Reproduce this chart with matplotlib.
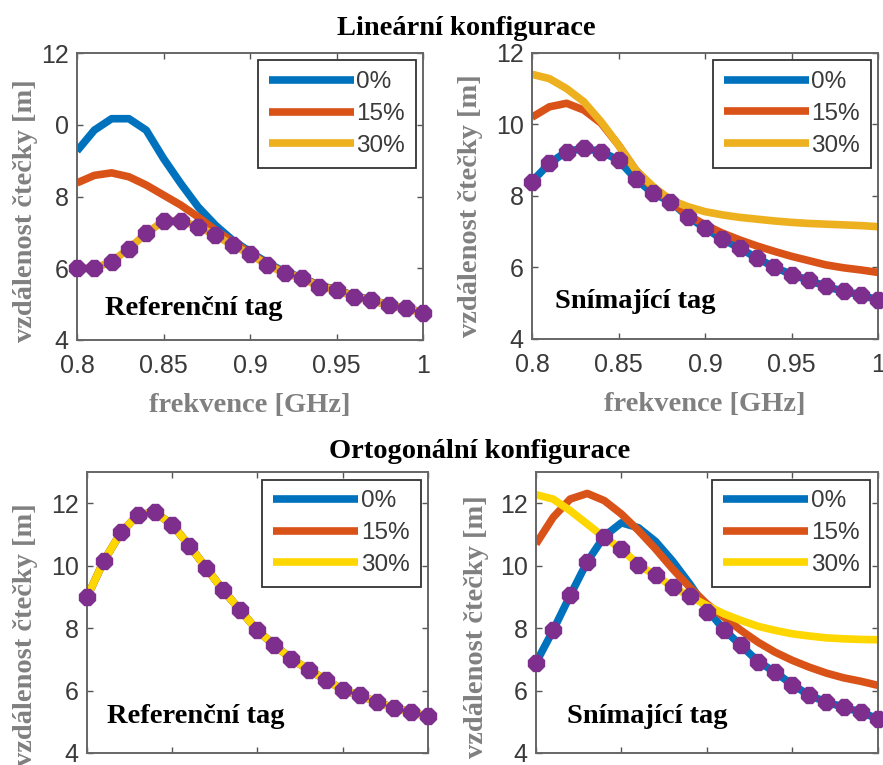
import matplotlib
matplotlib.use('Agg')
import matplotlib.pyplot as plt

# frequency grid [GHz]
freq = [0.80, 0.81, 0.82, 0.83, 0.84, 0.85, 0.86, 0.87, 0.88, 0.89, 0.90,
        0.91, 0.92, 0.93, 0.94, 0.95, 0.96, 0.97, 0.98, 0.99, 1.00]
labels = ['0%', '15%', '30%']

# Lineární konfigurace - referenční tag
lin_ref_0 = [9.27, 9.85, 10.17, 10.17, 9.85, 9.06, 8.36, 7.71, 7.20, 6.78, 6.46,
             6.15, 5.90, 5.74, 5.52, 5.41, 5.23, 5.12, 4.98, 4.89, 4.77]
lin_ref_15 = [8.38, 8.59, 8.66, 8.55, 8.32, 8.04, 7.76, 7.43, 7.06, 6.74, 6.42,
              6.12, 5.88, 5.73, 5.51, 5.40, 5.22, 5.11, 4.97, 4.88, 4.76]
lin_ref_30 = [6.00, 6.00, 6.18, 6.55, 6.97, 7.32, 7.32, 7.16, 6.92, 6.64, 6.39,
              6.09, 5.86, 5.72, 5.49, 5.39, 5.21, 5.11, 4.97, 4.88, 4.76]
lin_ref_min = [6.00, 6.00, 6.18, 6.55, 6.97, 7.32, 7.32, 7.16, 6.92, 6.64, 6.39,
               6.09, 5.86, 5.72, 5.49, 5.39, 5.21, 5.11, 4.97, 4.88, 4.76]

# Lineární konfigurace - snímající tag
lin_sen_0 = [8.40, 8.91, 9.24, 9.33, 9.24, 9.00, 8.47, 8.07, 7.84, 7.42, 7.10,
             6.79, 6.54, 6.26, 6.01, 5.80, 5.64, 5.47, 5.33, 5.24, 5.08]
lin_sen_15 = [10.20, 10.49, 10.59, 10.40, 10.03, 9.42, 8.72, 8.21, 7.84, 7.47, 7.19,
              6.96, 6.77, 6.60, 6.45, 6.31, 6.19, 6.07, 5.99, 5.93, 5.86]
lin_sen_30 = [11.40, 11.28, 11.00, 10.63, 10.07, 9.42, 8.72, 8.26, 7.89, 7.70, 7.56,
              7.47, 7.40, 7.35, 7.30, 7.26, 7.23, 7.21, 7.19, 7.17, 7.14]
lin_sen_min = [8.40, 8.91, 9.24, 9.33, 9.24, 9.00, 8.47, 8.07, 7.84, 7.42, 7.10,
               6.79, 6.54, 6.26, 6.01, 5.80, 5.64, 5.47, 5.33, 5.24, 5.08]

# Ortogonální konfigurace - referenční tag
ort_ref_0 = [8.99, 10.17, 11.07, 11.64, 11.71, 11.32, 10.65, 9.93, 9.21, 8.57, 7.93,
             7.45, 7.02, 6.67, 6.35, 6.03, 5.85, 5.63, 5.45, 5.31, 5.17]
ort_ref_15 = [8.99, 10.17, 11.07, 11.64, 11.71, 11.32, 10.65, 9.93, 9.21, 8.57, 7.93,
              7.45, 7.02, 6.67, 6.35, 6.03, 5.85, 5.63, 5.45, 5.31, 5.17]
ort_ref_30 = [8.99, 10.17, 11.07, 11.64, 11.71, 11.32, 10.65, 9.93, 9.21, 8.57, 7.93,
              7.45, 7.02, 6.67, 6.35, 6.03, 5.85, 5.63, 5.45, 5.31, 5.17]
ort_ref_min = [8.99, 10.17, 11.07, 11.64, 11.71, 11.32, 10.65, 9.93, 9.21, 8.57, 7.93,
               7.45, 7.02, 6.67, 6.35, 6.03, 5.85, 5.63, 5.45, 5.31, 5.17]

# Ortogonální konfigurace - snímající tag
ort_sen_0 = [6.89, 7.93, 9.05, 10.13, 10.95, 11.38, 11.22, 10.78, 10.15, 9.42, 8.62,
             7.95, 7.45, 6.93, 6.59, 6.19, 5.85, 5.63, 5.47, 5.31, 5.10]
ort_sen_15 = [10.70, 11.55, 12.14, 12.32, 12.09, 11.66, 11.13, 10.54, 9.90, 9.31, 8.78,
              8.35, 7.93, 7.55, 7.23, 6.97, 6.75, 6.56, 6.41, 6.30, 6.17]
ort_sen_30 = [12.28, 12.14, 11.77, 11.34, 10.91, 10.54, 10.03, 9.69, 9.33, 9.02, 8.73,
              8.46, 8.25, 8.06, 7.93, 7.82, 7.75, 7.69, 7.66, 7.64, 7.63]
ort_sen_min = [6.89, 7.93, 9.05, 10.13, 10.93, 10.54, 10.03, 9.69, 9.33, 9.02, 8.51,
               7.93, 7.45, 6.93, 6.59, 6.19, 5.85, 5.63, 5.47, 5.31, 5.10]

xticks = [0.8, 0.85, 0.9, 0.95, 1.0]
xticklabels = ['0.8', '0.85', '0.9', '0.95', '1']
yticks = [4, 6, 8, 10, 12]

BLUE = '#0072BD'
ORANGE = '#D95319'
YEL_TOP = '#EDB120'
YEL_BOT = '#FFD700'
PURPLE = '#7E2F8E'
GRAY_LBL = '#808080'

serif = ['Liberation Serif', 'DejaVu Serif']
plt.rcParams['font.family'] = ['Liberation Sans', 'DejaVu Sans']

fig = plt.figure(figsize=(8.83, 7.65), dpi=100)

panels = [
    # rect, series, yellow, ylim, ytick labels, text, text pos, show xlabel, ylabel coords
    ([0.0872, 0.5556, 0.392, 0.375], (lin_ref_0, lin_ref_15, lin_ref_30, lin_ref_min), YEL_TOP,
     (4, 12), ['4', '6', '8', '0', '12'], 'Referenční tag', (0.8162, 4.70), True, (-0.113, 0.45)),
    ([0.6025, 0.5569, 0.392, 0.374], (lin_sen_0, lin_sen_15, lin_sen_30, lin_sen_min), YEL_TOP,
     (4, 12), ['4', '6', '8', '10', '12'], 'Snímající tag', (0.813, 4.87), True, (-0.142, 0.465)),
    ([0.0985, 0.0157, 0.386, 0.367], (ort_ref_0, ort_ref_15, ort_ref_30, ort_ref_min), YEL_BOT,
     (4, 13), ['4', '6', '8', '10', '12'], 'Referenční tag', (0.812, 4.96), False, (-0.144, 0.42)),
    ([0.607, 0.0157, 0.387, 0.367], (ort_sen_0, ort_sen_15, ort_sen_30, ort_sen_min), YEL_BOT,
     (4, 13), ['4', '6', '8', '10', '12'], 'Snímající tag', (0.818, 4.96), False, (-0.137, 0.45)),
]

for rect, series, yel, ylim, ytl, txt, tpos, show_x, ylc in panels:
    ax = fig.add_axes(rect)
    s0, s15, s30, smin = series
    ax.plot(freq, s0, color=BLUE, lw=5.5, label=labels[0], solid_capstyle='butt')
    ax.plot(freq, s15, color=ORANGE, lw=5.5, label=labels[1], solid_capstyle='butt')
    ax.plot(freq, s30, color=yel, lw=5.5, label=labels[2], solid_capstyle='butt')
    ax.plot(freq, smin, linestyle='none', marker='8', ms=13, color=PURPLE,
            markeredgecolor=PURPLE, clip_on=False, zorder=5)

    ax.set_xlim(0.8, 1.0)
    ax.set_ylim(*ylim)
    ax.set_xticks(xticks)
    ax.set_yticks(yticks)
    ax.set_yticklabels(ytl)
    if show_x:
        ax.set_xticklabels(xticklabels)
        ax.set_xlabel('frekvence [GHz]', family=serif, fontweight='bold',
                      fontsize=20.5, color=GRAY_LBL, va='top')
        ax.xaxis.set_label_coords(0.5, -0.185)
    else:
        ax.set_xticklabels([])
    ax.set_ylabel('vzdálenost čtečky [m]', family=serif, fontweight='bold',
                  fontsize=20.5, color=GRAY_LBL)
    ax.yaxis.set_label_coords(*ylc)

    ax.tick_params(direction='in', top=True, right=True, length=4, width=1,
                   color='#555555', labelsize=18, labelcolor='#3a3a3a')
    ax.tick_params(axis='x', pad=10)
    ax.tick_params(axis='y', pad=6)
    for sp in ax.spines.values():
        sp.set_color('#666666')
        sp.set_linewidth(1.4)

    ax.text(tpos[0], tpos[1], txt, family=serif, fontweight='bold', fontsize=20.5,
            color='black', va='baseline', ha='left', zorder=6)

    leg = ax.legend(loc='upper right', fontsize=17.5, handlelength=3.5, handletextpad=0.1,
                    labelspacing=0.4, borderpad=0.45, borderaxespad=0.3,
                    fancybox=False, framealpha=1)
    leg.get_frame().set_edgecolor('#333333')
    leg.get_frame().set_linewidth(1.3)
    for t in leg.get_texts():
        t.set_color('#3a3a3a')

fig.text(0.528, 0.9542, 'Lineární konfigurace', family=serif, fontweight='bold',
         fontsize=20.5, ha='center', va='baseline')
fig.text(0.5436, 0.401, 'Ortogonální konfigurace', family=serif, fontweight='bold',
         fontsize=20.5, ha='center', va='baseline')

fig.savefig('out.png', dpi=100)
